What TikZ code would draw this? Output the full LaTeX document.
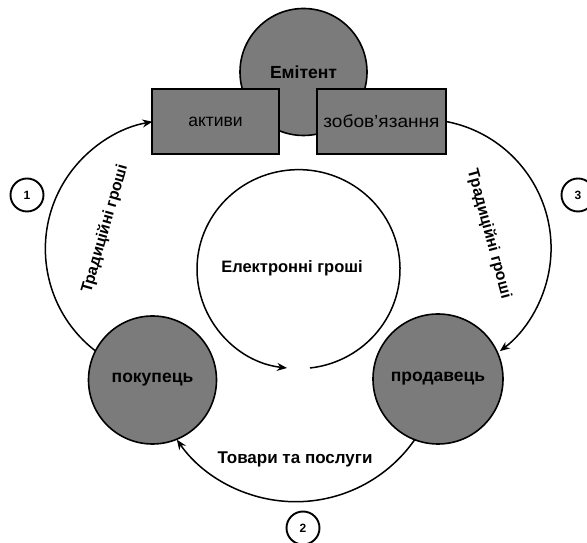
\documentclass[tikz,border=0pt]{standalone}
\usepackage{fontspec}
\setmainfont{Liberation Sans}
\usetikzlibrary{arrows.meta}
\definecolor{nodegrey}{HTML}{7B7B7B}
\tikzset{
  actor/.style={circle,draw=black,fill=nodegrey,line width=1.6pt,inner sep=0pt,outer sep=0pt,font=\fontsize{17.5}{20}\selectfont\bfseries},
  account/.style={rectangle,draw=black,fill=nodegrey,line width=1.8pt,inner sep=0pt,outer sep=0pt,minimum height=65pt,font=\fontsize{17.5}{20}\selectfont},
  flow/.style={draw=black,line width=1.5pt,-{Stealth[length=10pt,width=8pt]}},
  plainlabel/.style={font=\fontsize{16.5}{20}\selectfont\bfseries,inner sep=0pt},
  badge/.style={circle,draw=black,line width=1.9pt,fill=white,minimum size=33pt,inner sep=0pt,font=\fontsize{12}{14}\selectfont\bfseries}
}
\begin{document}
\begin{tikzpicture}[x=1pt,y=1pt]
\path[use as bounding box,clip] (0,0) rectangle (587,543);
\node[actor,minimum size=127pt] (emit) at (303.5,471) {Емітент};
\node[account,minimum width=127pt] (assets) at (215.5,421.5) {активи};
\node[account,minimum width=129pt] (liab) at (381.5,421.5) {\addfontfeatures{FakeStretch=1.09}зобов’язання};
\node[actor,minimum size=128pt] (buyer) at (152.5,163) {покупець};
\node[actor,minimum size=130pt] (seller) at (438,164) {продавець};
\draw[flow] (buyer.153) arc[start angle=232.3,end angle=99.8,radius=129];
\draw[flow] (liab.east) arc[start angle=79.3,end angle=-52.9,radius=129];
\draw[flow] (seller.-111) arc[start angle=-34.9,end angle=-145.1,radius=145];
\coordinate (emoneystart) at (310,175);
\draw[flow] (emoneystart) arc[start angle=-83.5,end angle=263.5,x radius=101.5,y radius=99.5];
\node[plainlabel] (emoney) at (292,274.5) {Електронні гроші};
\node[plainlabel,font=\fontsize{15.8}{20}\selectfont\bfseries,rotate=74] (tradl) at (105,314) {Традиційні гроші};
\node[plainlabel,font=\fontsize{15.8}{20}\selectfont\bfseries,rotate=-75] (tradr) at (489,309) {Традиційні гроші};
\node[plainlabel,font=\fontsize{17}{20}\selectfont\bfseries] (goods) at (295,84) {Товари та послуги};
\node[badge] (n1) at (27,348) {1};
\node[badge] (n2) at (303,15) {2};
\node[badge] (n3) at (578,348) {3};
\end{tikzpicture}
\end{document}
